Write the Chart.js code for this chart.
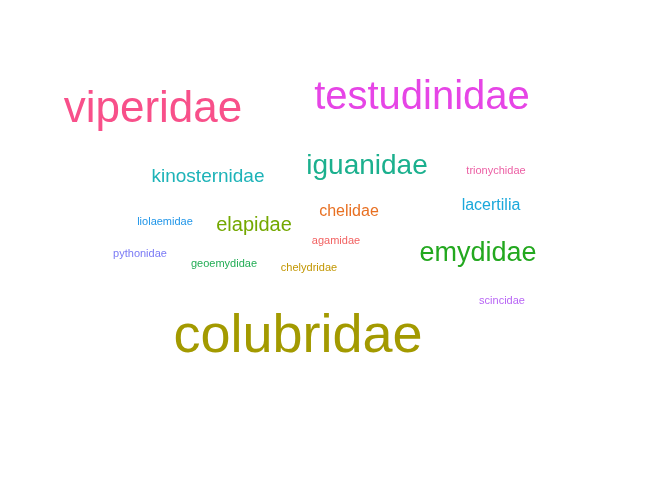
<!DOCTYPE html>
<html lang="en">
<head>
    <meta charset="UTF-8">
    <title>Word Cloud</title>
    <style>
        html, body { margin: 0; padding: 0; background: #fff; }
        #chart-container { width: 672px; height: 480px; }
    </style>
</head>
<body>
    <div id="chart-container">
        <canvas id="chart"></canvas>
    </div>

    <script src="https://cdn.jsdelivr.net/npm/chart.js"></script>
    <script>
        // word, weight and layout position (x, y in layout units)
        const words = ['viperidae', 'testudinidae', 'colubridae', 'kinosternidae', 'iguanidae',
            'trionychidae', 'liolaemidae', 'elapidae', 'chelidae', 'lacertilia', 'agamidae',
            'emydidae', 'pythonidae', 'geoemydidae', 'chelydridae', 'scincidae'];
        const weights = [44, 40, 54, 19, 28, 11, 11, 20, 16, 16, 11, 27, 11, 11, 11, 11];
        const posX = [153, 422, 298, 208, 367, 496, 165, 254, 349, 491, 336, 478, 140, 224, 309, 502];
        const posY = [110, 98, 337, 177, 166, 171, 222, 225, 212, 206, 241, 254, 254, 264, 268, 301];
        const colors = ['#F8508A', '#E645E6', '#A39A00', '#1DB3B8', '#1BB08E', '#EC5FA4',
            '#2196E8', '#74A800', '#E87022', '#1AA8DB', '#F26262', '#23A81F', '#7A7AF5',
            '#22AD55', '#C29600', '#B865F5'];

        const wordPlugin = {
            id: 'words',
            afterDatasetsDraw(chart) {
                const ctx = chart.ctx;
                const meta = chart.getDatasetMeta(0);
                ctx.save();
                ctx.textAlign = 'center';
                ctx.textBaseline = 'middle';
                meta.data.forEach((pt, i) => {
                    ctx.fillStyle = colors[i];
                    ctx.font = weights[i] + 'px "Liberation Sans", Arial, sans-serif';
                    ctx.fillText(words[i], pt.x, pt.y);
                });
                ctx.restore();
            }
        };

        new Chart(document.getElementById('chart'), {
            type: 'scatter',
            data: {
                datasets: [{
                    data: words.map((w, i) => ({ x: posX[i], y: posY[i] })),
                    pointRadius: 0
                }]
            },
            options: {
                responsive: true,
                maintainAspectRatio: false,
                animation: false,
                layout: { padding: 0 },
                plugins: { legend: { display: false }, tooltip: { enabled: false } },
                scales: {
                    x: { type: 'linear', min: 0, max: 672, display: false },
                    y: { type: 'linear', min: 0, max: 480, reverse: true, display: false }
                }
            },
            plugins: [wordPlugin]
        });
    </script>
</body>
</html>
